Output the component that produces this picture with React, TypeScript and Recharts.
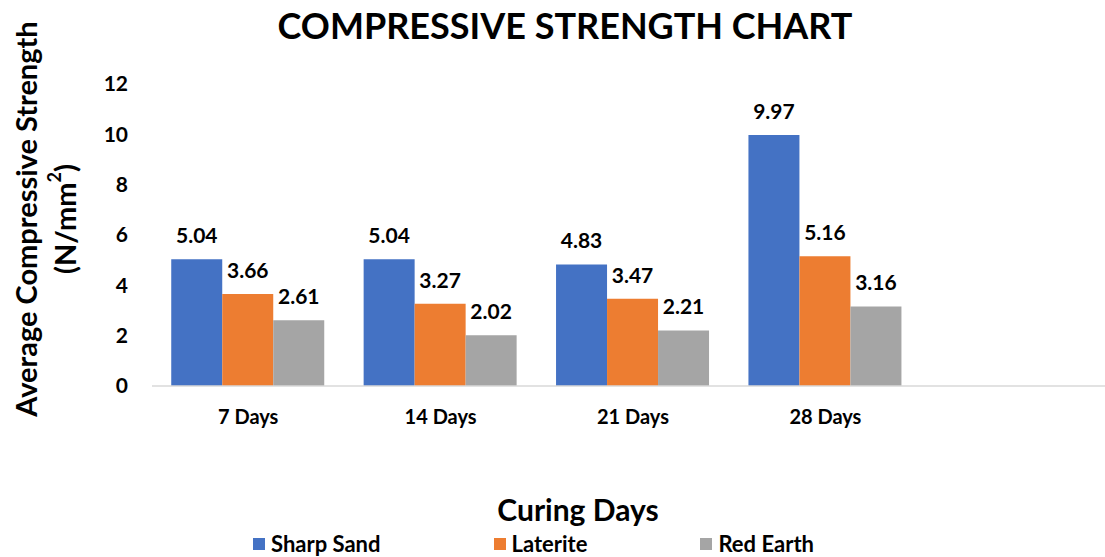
import { BarChart, Bar, XAxis, YAxis, Legend, LabelList } from 'recharts';

const categories = ['7 Days', '14 Days', '21 Days', '28 Days', ''];
const sharpSand = [5.04, 5.04, 4.83, 9.97, null];
const laterite = [3.66, 3.27, 3.47, 5.16, null];
const redEarth = [2.61, 2.02, 2.21, 3.16, null];
const yTicks = [0, 2, 4, 6, 8, 10, 12];

const series = [
  { key: 'sharpSand', name: 'Sharp Sand', color: '#4472C4' },
  { key: 'laterite', name: 'Laterite', color: '#ED7D31' },
  { key: 'redEarth', name: 'Red Earth', color: '#A5A5A5' },
];

const data = categories.map((c, i) => ({
  name: c,
  sharpSand: sharpSand[i],
  laterite: laterite[i],
  redEarth: redEarth[i],
}));

const FONT = 'Lato, "Open Sans", sans-serif';

function YLabel() {
  return (
    <g fontFamily={FONT} fontWeight="bold" fontSize={29} fill="#000">
      <text transform="translate(25,219) rotate(-90)" textAnchor="middle" dominantBaseline="central">
        Average Compressive Strength
      </text>
      <text transform="translate(64,219) rotate(-90)" textAnchor="middle" dominantBaseline="central">
        (N/mm<tspan dy="-10" fontSize={18}>2</tspan><tspan dy="10">)</tspan>
      </text>
    </g>
  );
}

function renderLegend() {
  return (
    <div
      style={{
        display: 'flex',
        justifyContent: 'center',
        fontFamily: FONT,
        fontWeight: 'bold',
        fontSize: 22,
        lineHeight: '22px',
      }}
    >
      {series.map((s, i) => (
        <div key={s.key} style={{ display: 'flex', alignItems: 'center', marginRight: i < series.length - 1 ? 113 : 0 }}>
          <span style={{ width: 12, height: 12, background: s.color, marginRight: 6, display: 'inline-block' }} />
          <span>{s.name}</span>
        </div>
      ))}
    </div>
  );
}

export default function App() {
  return (
    <div style={{ position: 'absolute', left: 0, top: 0, width: 1105, height: 557, overflow: 'hidden', background: '#fff' }}>
      <div
        style={{
          position: 'absolute',
          left: 0,
          top: 3,
          width: 1130,
          textAlign: 'center',
          fontFamily: FONT,
          fontWeight: 'bold',
          fontSize: 36,
          color: '#000',
        }}
      >
        COMPRESSIVE STRENGTH CHART
      </div>
      <BarChart
        width={1114}
        height={557}
        data={data}
        margin={{ top: 84, right: 0, bottom: 0, left: 0 }}
        barCategoryGap="10%"
        barGap={0}
      >
        <XAxis
          dataKey="name"
          height={171}
          axisLine={{ stroke: '#d9d9d9', strokeWidth: 1.5 }}
          tickLine={false}
          tickSize={0}
          tickMargin={24}
          tick={{ fill: '#000', fontSize: 20, fontWeight: 'bold', fontFamily: FONT }}
          label={{
            value: 'Curing Days',
            position: 'insideBottom',
            offset: 36,
            fill: '#000',
            fontSize: 30,
            fontWeight: 'bold',
            fontFamily: FONT,
            dx: -55,
          }}
        />
        <YAxis
          width={152}
          domain={[0, 12]}
          ticks={yTicks}
          axisLine={false}
          tickLine={false}
          tickSize={0}
          tickMargin={24}
          tick={{ fill: '#000', fontSize: 21, fontWeight: 'bold', fontFamily: FONT }}
          label={{ content: () => <YLabel /> }}
        />
        <Legend
          layout="horizontal"
          verticalAlign="middle"
          align="center"
          content={renderLegend}
          wrapperStyle={{ left: 0, top: 533, width: 1067 }}
        />
        {series.map((s) => (
          <Bar key={s.key} dataKey={s.key} name={s.name} fill={s.color} isAnimationActive={false}>
            <LabelList
              dataKey={s.key}
              position="top"
              offset={16}
              fill="#000"
              fontSize={21}
              fontWeight="bold"
              fontFamily={FONT}
            />
          </Bar>
        ))}
      </BarChart>
    </div>
  );
}
